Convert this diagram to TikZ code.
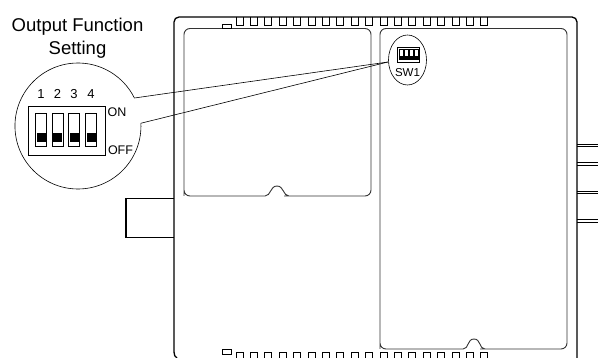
\documentclass[tikz,border=0pt]{standalone}
\usepackage{fontspec}
\setmainfont{Liberation Sans}
\usepackage{tikz}
\usetikzlibrary{positioning}
\usetikzlibrary{shapes.geometric}
\tikzset{
  body/.style={line width=1.3pt},
  panel/.style={line width=0.9pt, black!80},
  tooth/.style={line width=0.8pt},
  label/.style={inner sep=0pt}
}
\begin{document}
\begin{tikzpicture}[x=1pt, y=-1pt]
  \useasboundingbox (0, 0) rectangle (598, 358);
  % case
  \draw[body, rounded corners=5pt] (174, 352) -- (174, 17) -- (577, 17) -- (577, 358);
  \draw[body] (174, 352) .. controls (174, 355) and (175, 357) .. (177, 358);
  \draw[body] (174, 198.5) -- (126, 198.5) -- (126, 237.5) -- (174, 237.5);
  \foreach \y in {145.2, 163.7, 192.3, 221} {
    \draw[line width=0.7pt] (577, \y - 1.3) -- (598, \y - 1.3);
    \draw[line width=0.7pt] (577, \y + 1.3) -- (598, \y + 1.3);
  }
  % panels
  \draw[panel, rounded corners=6pt] (184, 196) -- (184, 28.5) -- (371, 28.5) -- (371, 196) -- (290, 196)
    [sharp corners] -- (289, 196) .. controls (283, 196) and (284, 186) .. (277, 186)
    .. controls (270, 186) and (271, 196) .. (265, 196) -- (264, 196) [rounded corners=6pt] -- (184, 196) -- (184, 180);
  \draw[panel, rounded corners=6pt] (380, 349) -- (380, 28.5) -- (567, 28.5) -- (567, 349) -- (486, 349)
    [sharp corners] -- (485, 349) .. controls (479, 349) and (481, 339) .. (474, 339)
    .. controls (467, 339) and (469, 349) .. (463, 349) -- (462, 349) [rounded corners=6pt] -- (380, 349) -- (380, 330);
  % teeth
  \foreach \i in {0, ..., 17} {
    \draw[tooth] (236 + 14.4*\i, 17) -- (236 + 14.4*\i, 25) -- (243 + 14.4*\i, 25) -- (243 + 14.4*\i, 17);
    \draw[tooth] (236 + 14.4*\i, 358) -- (236 + 14.4*\i, 352) -- (243 + 14.4*\i, 352) -- (243 + 14.4*\i, 358);
  }
  \draw[tooth] (222, 24) rectangle (231.5, 28.5);
  \draw[tooth] (222, 349.5) rectangle (231.5, 354);
  % zoomed circle, open towards the leader lines
  \coordinate (leadtop) at (134.4, 98);
  \coordinate (leadbot) at (140.9, 123.25);
  \draw[line width=0.6pt] (leadbot) arc[start angle=-2.5, end angle=333.6, radius=63];
  \node[draw, ellipse, line width=0.6pt, minimum width=38pt, minimum height=50pt, inner sep=0pt] (swcircle) at (407.5, 60) {};
  \coordinate (leadend) at (388, 62);
  \draw[line width=0.6pt] (leadtop) -- (leadend);
  \draw[line width=0.6pt] (leadbot) -- (leadend);
  % switch
  \node[draw, line width=0.8pt, minimum width=77pt, minimum height=49pt, inner sep=0pt] (swbox) at (66.5, 130.5) {};
  \foreach \n/\x in {1/41, 2/57.5, 3/74, 4/91} {
    \node[label, font=\fontsize{13}{13}\selectfont] (num\n) at (\x, 94) {\n};
    \draw[line width=0.8pt] (\x - 5.5, 113.5) rectangle (\x + 5.5, 146.5);
    \fill (\x - 4.5, 133) rectangle (\x + 4.5, 142.5);
  }
  \node[label, font=\fontsize{12.5}{12.5}\selectfont] (onlabel) at (117, 112) {ON};
  \node[label, font=\fontsize{12.5}{12.5}\selectfont] (offlabel) at (120.5, 150) {OFF};
  \node[align=center, inner sep=0pt, font=\fontsize{18.5}{22.5}\selectfont] (title) at (77.5, 38) {Output Function\\Setting};
  % small switch
  \draw[line width=0.9pt] (397, 47) rectangle (419, 62.5);
  \foreach \x in {401, 406, 411, 416} {
    \draw[line width=0.5pt] (\x - 2, 49.5) rectangle (\x + 2, 59);
    \fill (\x - 2, 56) rectangle (\x + 2, 59);
  }
  \node[label, font=\fontsize{11.5}{11.5}\selectfont] (swname) at (407.5, 73) {SW1};
\end{tikzpicture}
\end{document}
